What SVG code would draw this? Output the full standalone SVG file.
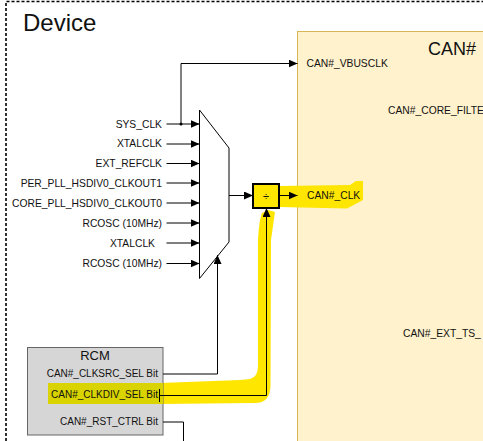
<svg xmlns="http://www.w3.org/2000/svg" width="483" height="441" viewBox="0 0 483 441">
<defs>
<style>
.t{font-family:"Liberation Sans",Arial,sans-serif;fill:#111;}
.s{font-size:10.3px;}
.r{font-size:10px;}
.ln{fill:none;stroke:#000;stroke-width:1;}
.hl{fill:#ffe600;stroke:none;}
</style>
<marker id="ah" markerUnits="userSpaceOnUse" markerWidth="10" markerHeight="9" refX="9" refY="4" orient="auto" viewBox="0 0 10 9">
<path d="M0,0 L9,4 L0,8 Z" fill="#000"/>
</marker>
</defs>
<rect width="483" height="441" fill="#fff"/>

<g id="device">
<path d="M6,441 L6,1.5 L483,1.5" fill="none" stroke="#000" stroke-width="1.6" stroke-dasharray="3,2"/>
<text class="t" x="23" y="30.5" font-size="24">Device</text>
</g>

<g id="can">
<rect x="297.5" y="31.5" width="200" height="420" fill="#fff2cc" stroke="#d6b656" stroke-width="1"/>
<text class="t" x="428" y="55" font-size="18">CAN#</text>
<text class="t s" x="306.5" y="67">CAN#_VBUSCLK</text>
<text class="t s" x="388" y="114">CAN#_CORE_FILTE</text>
<text class="t s" x="403" y="337">CAN#_EXT_TS_</text>
</g>

<g id="highlights">
<path class="hl" d="M279,186 L350,185 L356,181 L363,181 L363,200 L347,208.5 L279,207 Z"/>
<path class="hl" d="M160,383 L240,380 L250,379 Q258,377 258,366 L258,240 Q259,220 262,213 L268,210 L275,212 L271,240 L270.5,385 Q270.5,403 255,403 L160,404 Z"/>
</g>

<g id="can-clk">
<text class="t s" x="307" y="199.3">CAN#_CLK</text>
</g>

<g id="inputs">
<text class="t s" x="162" y="127.5" text-anchor="end">SYS_CLK</text>
<text class="t s" x="162" y="147.3" text-anchor="end">XTALCLK</text>
<text class="t s" x="162" y="166.7" text-anchor="end">EXT_REFCLK</text>
<text class="t s" x="162" y="186.7" text-anchor="end">PER_PLL_HSDIV0_CLKOUT1</text>
<text class="t s" x="162" y="206.7" text-anchor="end">CORE_PLL_HSDIV0_CLKOUT0</text>
<text class="t s" x="162" y="226.7" text-anchor="end">RCOSC (10MHz)</text>
<text class="t s" x="155" y="246.5" text-anchor="end">XTALCLK</text>
<text class="t s" x="162" y="267.3" text-anchor="end">RCOSC (10MHz)</text>
</g>

<g id="mux">
<path d="M199.5,110 L229,148 L229,242 L199.5,278.5 Z" fill="#fff" stroke="#000" stroke-width="1"/>
<line x1="229" y1="148" x2="229" y2="242" stroke="#808080" stroke-width="2"/>
</g>

<g id="divider">
<rect x="253" y="184" width="26" height="24" fill="#ffe600" stroke="#000" stroke-width="2"/>
<text class="t" x="266" y="199.5" font-size="11" text-anchor="middle">÷</text>
</g>

<g id="rcm">
<rect x="27.5" y="347.5" width="135.5" height="87.5" fill="#d6d6d6" stroke="#666" stroke-width="1"/>
<rect x="48" y="383" width="115" height="21" fill="#d9d400"/>
<text class="t" x="95" y="360" font-size="13" text-anchor="middle">RCM</text>
<text class="t r" x="158" y="377" text-anchor="end">CAN#_CLKSRC_SEL Bit</text>
<text class="t r" x="158" y="398" text-anchor="end">CAN#_CLKDIV_SEL Bit</text>
<line x1="159.5" y1="389" x2="159.5" y2="402" stroke="#000" stroke-width="1"/>
<text class="t r" x="158" y="425" text-anchor="end">CAN#_RST_CTRL Bit</text>
</g>

<g id="connectors">
<line class="ln" x1="166.5" y1="124" x2="199.5" y2="124" marker-end="url(#ah)"/>
<line class="ln" x1="166.5" y1="144" x2="199.5" y2="144" marker-end="url(#ah)"/>
<line class="ln" x1="166.5" y1="163.5" x2="199.5" y2="163.5" marker-end="url(#ah)"/>
<line class="ln" x1="166.5" y1="183" x2="199.5" y2="183" marker-end="url(#ah)"/>
<line class="ln" x1="166.5" y1="203" x2="199.5" y2="203" marker-end="url(#ah)"/>
<line class="ln" x1="166.5" y1="223" x2="199.5" y2="223" marker-end="url(#ah)"/>
<line class="ln" x1="166.5" y1="243" x2="199.5" y2="243" marker-end="url(#ah)"/>
<line class="ln" x1="166.5" y1="263.5" x2="199.5" y2="263.5" marker-end="url(#ah)"/>
<path class="ln" d="M181,124 L181,63.5 L297.5,63.5" marker-end="url(#ah)"/>
<circle cx="181" cy="124" r="1.5" fill="#000"/>
<line class="ln" x1="229" y1="195.5" x2="253" y2="195.5" marker-end="url(#ah)"/>
<line class="ln" x1="279" y1="195.5" x2="297.5" y2="195.5" marker-end="url(#ah)"/>
<path class="ln" d="M163,374 L217.5,374 L217.5,255" marker-end="url(#ah)"/>
<path class="ln" d="M160,395.5 L266.5,395.5 L266.5,208" marker-end="url(#ah)"/>
<path class="ln" d="M163,422 L183.5,422 L183.5,441"/>
</g>
</svg>
